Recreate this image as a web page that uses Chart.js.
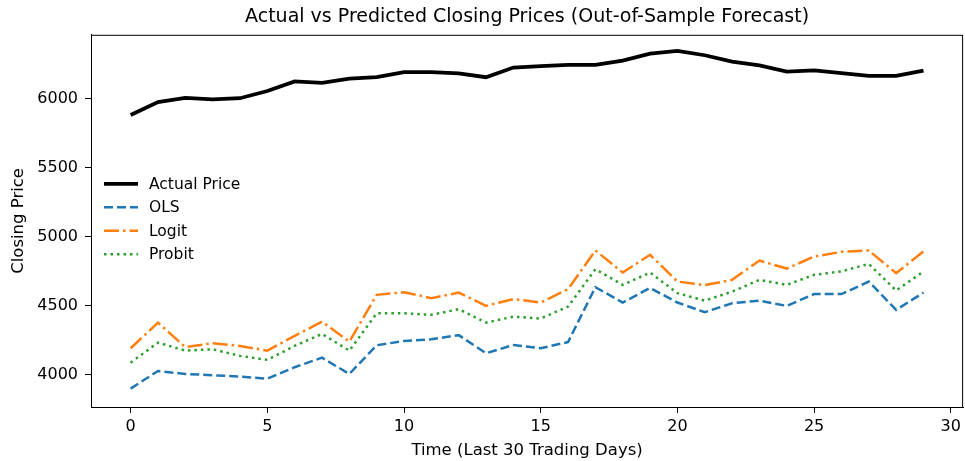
<!DOCTYPE html>
<html>
<head>
<meta charset="utf-8">
<script src="https://cdn.jsdelivr.net/npm/chart.js@4.4.1/dist/chart.umd.min.js"></script>
<style>
  html, body { margin: 0; padding: 0; background: #fff; }
  #wrap { width: 965px; height: 461px; }
</style>
</head>
<body>
<div id="wrap"><canvas id="myChart" width="965" height="461"></canvas></div>
<script>
// trading day index
var days = [0, 1, 2, 3, 4, 5, 6, 7, 8, 9, 10, 11, 12, 13, 14, 15, 16, 17, 18, 19, 20, 21, 22, 23, 24, 25, 26, 27, 28, 29];

var actual = [5882, 5975, 6005, 5995, 6003, 6055, 6125, 6114, 6145, 6155, 6192, 6192, 6183, 6155, 6225,
              6235, 6245, 6245, 6275, 6325, 6345, 6314, 6268, 6240, 6196, 6205, 6185, 6165, 6165, 6203];
var ols = [3901, 4029, 4007, 3998, 3988, 3973, 4056, 4125, 4007, 4215, 4246, 4258, 4288, 4157, 4217,
           4193, 4238, 4635, 4524, 4630, 4524, 4454, 4519, 4538, 4500, 4585, 4585, 4676, 4471, 4596];
var logit = [4193, 4379, 4201, 4230, 4210, 4176, 4283, 4386, 4241, 4580, 4599, 4556, 4596, 4500, 4549,
             4524, 4621, 4901, 4741, 4870, 4676, 4650, 4688, 4828, 4770, 4857, 4891, 4901, 4737, 4894];
var probit = [4089, 4234, 4176, 4186, 4138, 4109, 4210, 4297, 4176, 4446, 4446, 4435, 4476, 4379, 4422,
              4408, 4495, 4766, 4652, 4741, 4592, 4538, 4603, 4688, 4652, 4725, 4749, 4804, 4611, 4749];

var xTicks = [0, 5, 10, 15, 20, 25, 30];
var yTicks = [4000, 4500, 5000, 5500, 6000];

function pts(vals) {
    return days.map(function (d, i) { return { x: d, y: vals[i] }; });
}

Chart.defaults.font.family = 'DejaVu Sans';
Chart.defaults.color = '#000';

// top/right spines
var frame = {
    id: 'frame',
    afterDraw: function (chart) {
        var a = chart.chartArea, ctx = chart.ctx;
        ctx.save();
        ctx.strokeStyle = '#000';
        ctx.lineWidth = 1;
        ctx.strokeRect(a.left + 0.5, a.top + 0.5, a.right - a.left - 1, a.bottom - a.top);
        ctx.restore();
    }
};

// matplotlib style legend, no frame, inside the axes
var innerLegend = {
    id: 'innerLegend',
    afterDraw: function (chart) {
        var a = chart.chartArea, ctx = chart.ctx;
        var x0 = a.left + 13, y0 = a.top + 149, rowH = 23.5;
        ctx.save();
        chart.data.datasets.forEach(function (ds, i) {
            var y = y0 + i * rowH;
            ctx.beginPath();
            ctx.setLineDash(ds.borderDash || []);
            ctx.lineWidth = ds.borderWidth;
            ctx.strokeStyle = ds.borderColor;
            ctx.lineCap = 'butt';
            ctx.moveTo(x0, y);
            ctx.lineTo(x0 + 34, y);
            ctx.stroke();
            ctx.setLineDash([]);
            ctx.fillStyle = '#000';
            ctx.font = '15.5px "DejaVu Sans"';
            ctx.textBaseline = 'middle';
            ctx.fillText(ds.label, x0 + 45, y + 1);
        });
        ctx.restore();
    }
};

var chartId = document.getElementById('myChart').getContext('2d');

var myChart = new Chart(chartId, {
    type: 'line',
    data: {
        datasets: [{
            label: 'Actual Price',
            data: pts(actual),
            borderColor: '#000000',
            borderWidth: 3.8
        }, {
            label: 'OLS',
            data: pts(ols),
            borderColor: '#1f77b4',
            borderWidth: 2.5,
            borderDash: [9, 4]
        }, {
            label: 'Logit',
            data: pts(logit),
            borderColor: '#ff7f0e',
            borderWidth: 2.5,
            borderDash: [15, 4, 2.5, 4]
        }, {
            label: 'Probit',
            data: pts(probit),
            borderColor: '#2ca02c',
            borderWidth: 2.5,
            borderDash: [2.5, 4]
        }]
    },
    options: {
        responsive: false,
        animation: false,
        elements: {
            point: { radius: 0 },
            line: { tension: 0, borderCapStyle: 'butt' }
        },
        layout: { padding: { left: 0, right: 1, top: 0, bottom: 0 } },
        scales: {
            x: {
                type: 'linear',
                min: -1.45,
                max: 30.45,
                afterBuildTicks: function (s) { s.ticks = xTicks.map(function (v) { return { value: v }; }); },
                afterFit: function (s) { s.height = 54; },
                border: { display: true, color: '#000', width: 1 },
                grid: { drawOnChartArea: false, drawTicks: true, tickLength: 6, color: '#000' },
                ticks: { font: { size: 16 }, padding: 4, maxRotation: 0,
                         callback: function (v) { return String(v); } },
                title: {
                    display: true,
                    text: 'Time (Last 30 Trading Days)',
                    font: { size: 16.5 },
                    padding: { top: 0, bottom: 0 }
                }
            },
            y: {
                type: 'linear',
                min: 3768,
                max: 6462,
                afterBuildTicks: function (s) { s.ticks = yTicks.map(function (v) { return { value: v }; }); },
                afterFit: function (s) { s.width = 91; },
                border: { display: true, color: '#000', width: 1 },
                grid: { drawOnChartArea: false, drawTicks: true, tickLength: 6, color: '#000' },
                ticks: { font: { size: 16 }, padding: 7,
                         callback: function (v) { return String(v); } },
                title: {
                    display: true,
                    text: 'Closing Price',
                    font: { size: 16.5 },
                    padding: { top: 9, bottom: 0 }
                }
            }
        },
        plugins: {
            legend: { display: false },
            tooltip: { enabled: false },
            title: {
                display: true,
                text: 'Actual vs Predicted Closing Prices (Out-of-Sample Forecast)',
                fullSize: false,
                color: '#000',
                font: { size: 19, weight: 'normal' },
                padding: { top: 6, bottom: 6 }
            }
        }
    },
    plugins: [frame, innerLegend]
});
</script>
</body>
</html>
